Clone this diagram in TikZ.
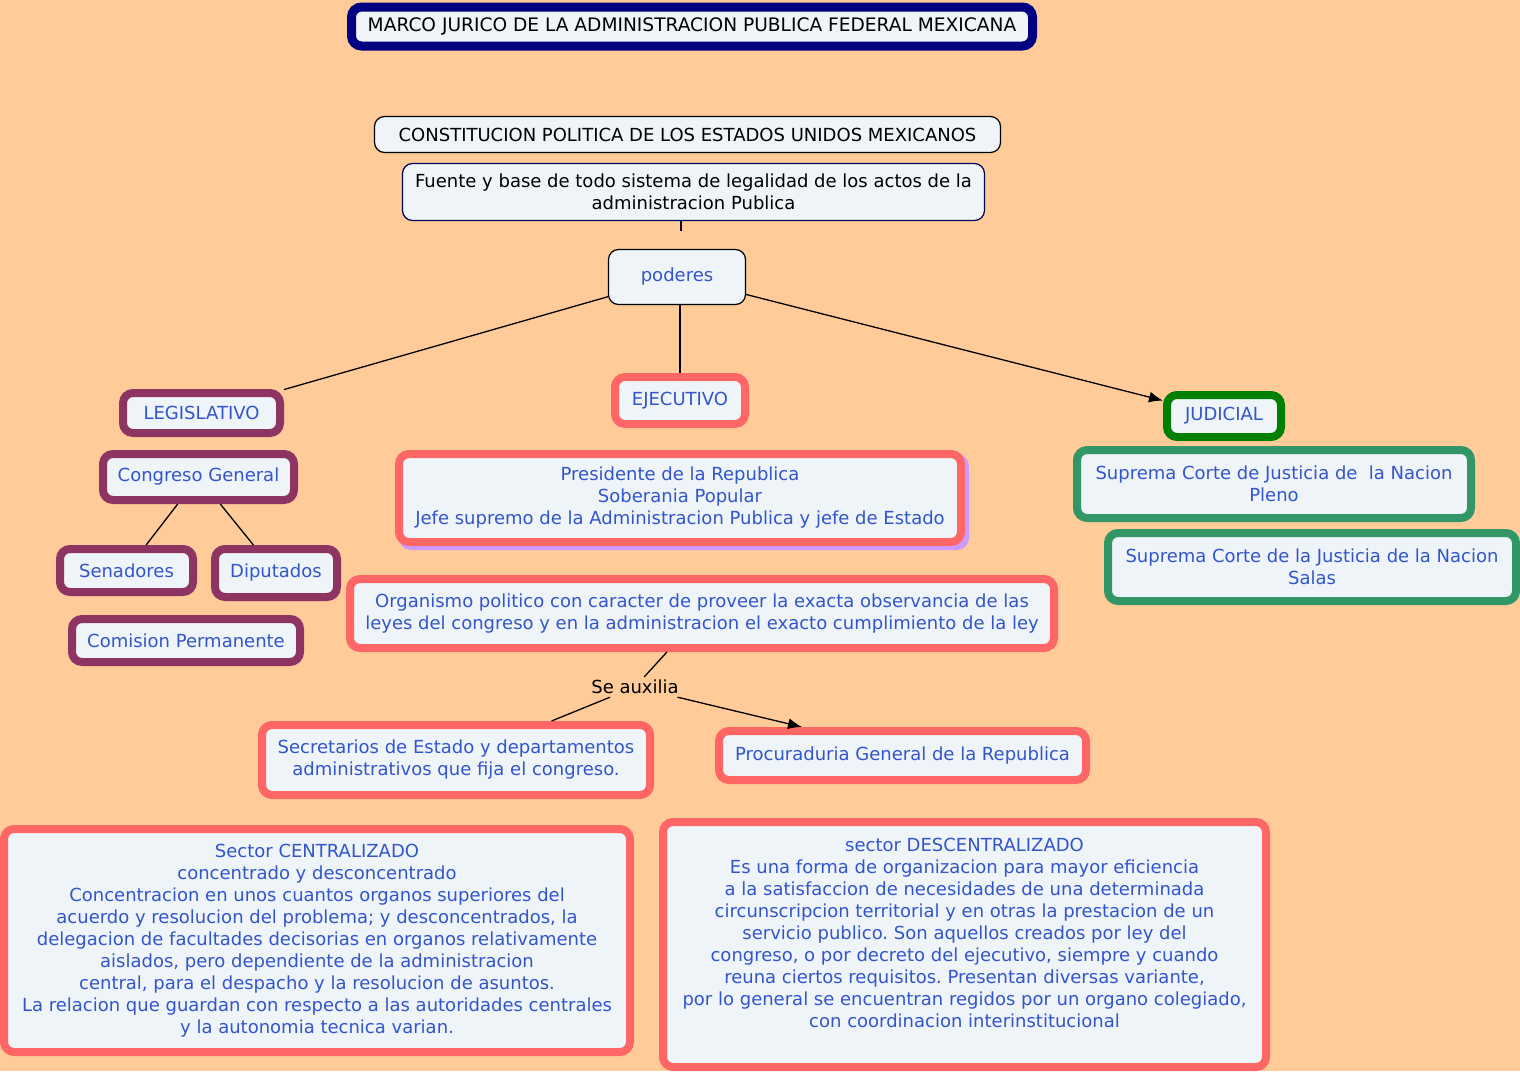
\documentclass[tikz,border=0pt]{standalone}
\usepackage{fontspec}
\setmainfont{DejaVu Sans}
\usetikzlibrary{arrows.meta,calc}
\frenchspacing

\definecolor{paper}{RGB}{255,204,153}
\definecolor{boxfill}{RGB}{238,244,247}
\definecolor{ink}{RGB}{51,85,204}
\definecolor{navyline}{RGB}{0,0,128}
\definecolor{salmon}{RGB}{255,102,102}
\definecolor{plum}{RGB}{142,52,98}
\definecolor{judgreen}{RGB}{0,128,0}
\definecolor{courtgreen}{RGB}{51,150,102}
\definecolor{lilac}{RGB}{204,153,255}

\tikzset{
  x=1pt, y=-1pt,
  every node/.style={font=\fontsize{18}{22}\selectfont, inner sep=0pt, align=center},
  concept/.style={draw, fill=boxfill, rounded corners=10pt, text=ink},
  plainbox/.style={concept, line width=1.2pt, draw=black},
  thickbox/.style={concept, line width=8pt},
  legisbox/.style={thickbox, draw=plum},
  ejecbox/.style={thickbox, draw=salmon},
  judbox/.style={thickbox, draw=judgreen},
  courtbox/.style={thickbox, draw=courtgreen},
  link/.style={draw=black, line width=1.3pt},
  arrowlink/.style={link, -{Latex[length=14pt,width=11pt]}},
}

\begin{document}
\begin{tikzpicture}
\useasboundingbox (0,0) rectangle (1520,1071);
\fill[paper] (0,0) rectangle (1520,1071);

% heading
\node[concept, line width=9pt, draw=navyline, text=black,
      font=\fontsize{18.6}{22}\selectfont,
      minimum width=681, minimum height=39] (title) at (692,26.5)
  {MARCO JURICO DE LA ADMINISTRACION PUBLICA FEDERAL MEXICANA};

% constitution
\node[plainbox, text=black, minimum width=626, minimum height=36] (const) at (687.5,134.5)
  {CONSTITUCION POLITICA DE LOS ESTADOS UNIDOS MEXICANOS};
\node[plainbox, draw=navyline!70!black, text=black, minimum width=582, minimum height=57] (fuente) at (693.5,192)
  {Fuente y base de todo sistema de legalidad de los actos de la\\administracion Publica};
\coordinate (fstub) at (681,231);

\node[plainbox, minimum width=137, minimum height=55] (poderes) at (677,277) {poderes};

% legislative branch
\node[legisbox, minimum width=157, minimum height=40] (legis) at (201.5,413) {LEGISLATIVO};
\node[legisbox, minimum width=191, minimum height=46] (congreso) at (198.5,477) {Congreso General};
\node[legisbox, minimum width=133, minimum height=43] (senad) at (126.5,570.5) {Senadores};
\node[legisbox, minimum width=122, minimum height=48] (diput) at (276,573) {Diputados};
\node[legisbox, minimum width=228, minimum height=43] (comision) at (186,640.5) {Comision Permanente};

% executive branch
\node[ejecbox, minimum width=130, minimum height=47] (ejec) at (680,400.5) {EJECUTIVO};
\fill[lilac, rounded corners=12pt] (399,454) rectangle (969,550);
\node[ejecbox, minimum width=562, minimum height=88] (presid) at (680,498)
  {Presidente de la Republica\\Soberania Popular\\Jefe supremo de la Administracion Publica y jefe de Estado};
\node[ejecbox, minimum width=704, minimum height=69] (organismo) at (702,613.5)
  {Organismo politico con caracter de proveer la exacta observancia de las\\leyes del congreso y en la administracion el exacto cumplimiento de la ley};
\node[text=black, inner sep=3pt] (auxilia) at (635,687) {Se auxilia};
\node[ejecbox, minimum width=388, minimum height=70] (secret) at (456,760)
  {Secretarios de Estado y departamentos\\administrativos que fija el congreso.};
\node[ejecbox, minimum width=367, minimum height=49] (procur) at (902.5,755.5)
  {Procuraduria General de la Republica};
\node[ejecbox, minimum width=626, minimum height=223] (central) at (317,940.5)
  {Sector CENTRALIZADO\\
   concentrado y desconcentrado\\
   Concentracion en unos cuantos organos superiores del\\
   acuerdo y resolucion del problema; y desconcentrados, la\\
   delegacion de facultades decisorias en organos relativamente\\
   aislados, pero dependiente de la administracion\\
   central, para el despacho y la resolucion de asuntos.\\
   La relacion que guardan con respecto a las autoridades centrales\\
   y la autonomia tecnica varian.};
\node[ejecbox, minimum width=603, minimum height=245] (descent) at (964.5,944.5)
  {sector DESCENTRALIZADO\\
   Es una forma de organizacion para mayor eficiencia\\
   a la satisfaccion de necesidades de una determinada\\
   circunscripcion territorial y en otras la prestacion de un\\
   servicio publico. Son aquellos creados por ley del\\
   congreso, o por decreto del ejecutivo, siempre y cuando\\
   reuna ciertos requisitos. Presentan diversas variante,\\
   por lo general se encuentran regidos por un organo colegiado,\\
   con coordinacion interinstitucional\rule[-24pt]{0pt}{0pt}};

% judicial branch
\node[judbox, minimum width=114, minimum height=42] (judicial) at (1224,416) {JUDICIAL};
\node[courtbox, minimum width=394, minimum height=68] (pleno) at (1274,484)
  {Suprema Corte de Justicia de\ \ la Nacion\\Pleno};
\node[courtbox, minimum width=408, minimum height=68] (salas) at (1312,567)
  {Suprema Corte de la Justicia de la Nacion\\Salas};

% connectors
\draw[link] (fuente.south -| fstub) -- (fstub);
\draw[link] (poderes) -- (legis);
\draw[link] (poderes.south -| ejec.north) -- (ejec.north);
\draw[arrowlink] (poderes) -- (judicial);
\draw[link] (congreso) -- (senad);
\draw[link] (congreso) -- (diput);
\draw[link] (organismo) -- (auxilia);
\draw[link] (auxilia) -- (secret);
\draw[arrowlink] (auxilia) -- (procur.north west -| 802,0);
\end{tikzpicture}
\end{document}
